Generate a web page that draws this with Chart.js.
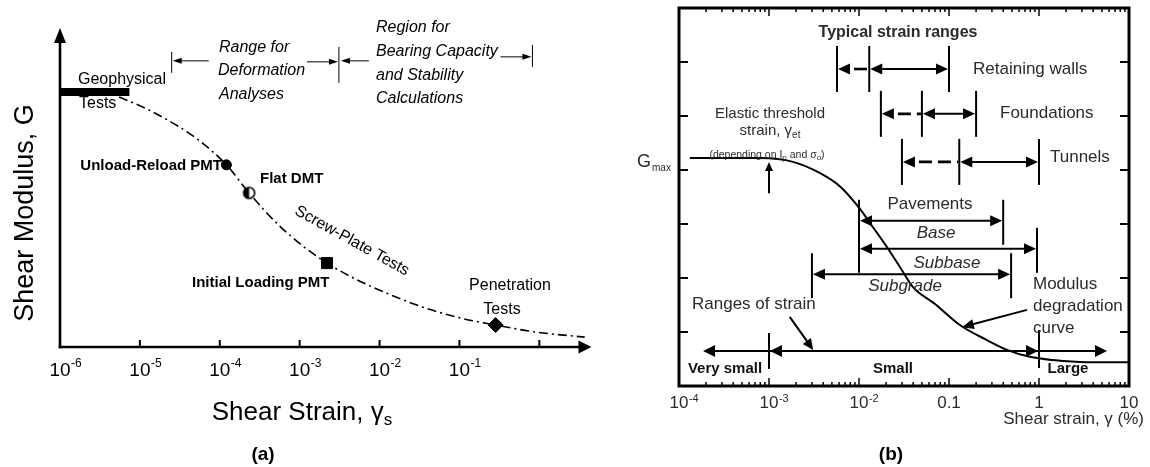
<!DOCTYPE html>
<html>
<head>
<meta charset="utf-8">
<script src="https://cdn.jsdelivr.net/npm/chart.js@4.4.0/dist/chart.umd.min.js"></script>
<style>
  body { margin: 0; background: #fff; }
  #wrap { position: relative; width: 1150px; height: 467px; }
  #wrap canvas { position: absolute; top: 0; }
</style>
</head>
<body>
<div id="wrap">
  <canvas id="chartA" width="600" height="467" style="left:0"></canvas>
  <canvas id="chartB" width="550" height="467" style="left:600px"></canvas>
</div>
<script>
// ---------- panel (a) ----------
const strainTicksA = [1e-6, 1e-5, 1e-4, 1e-3, 1e-2, 1e-1, 1];
const tickExpA = ['-6', '-5', '-4', '-3', '-2', '-1', ''];
const curveStrainA = [5.5e-6, 1.3e-5, 3.1e-5, 5.4e-5, 1.21e-4, 2.33e-4, 5.8e-4, 2.2e-3, 0.02, 0.091, 0.284, 0.89, 3.7];
const curveGA = [78.4, 74.3, 69.0, 64.9, 57.1, 48.3, 37.6, 26.3, 14.7, 9.4, 6.9, 4.7, 3.1];
const testStrain = [1.21e-4, 2.33e-4, 2.2e-3, 0.284];
const testG = [57.1, 48.3, 26.3, 6.9];
const geoStrain = [1e-6, 7.4e-6];
const geoG = [79.9, 79.9];
const deformRange = [2.5e-5, 3.1e-3];
const bearingRange = [3.1e-3, 0.82];

// ---------- panel (b) ----------
const strainTicksB = [1e-4, 1e-3, 1e-2, 0.1, 1, 10];
const tickBaseB = ['10', '10', '10', '0.1', '1', '10'];
const tickExpB = ['-4', '-3', '-2', '', '', ''];
const gTicksB = [1, 2, 3, 4, 5, 6];
const curveStrainB = [1.32e-4, 7.9e-4, 1.85e-3, 3.7e-3, 6.2e-3, 9.8e-3, 0.0143, 0.0205, 0.0286, 0.0398, 0.0698, 0.132, 0.264, 0.44, 0.79, 1.43, 3.4, 10];
const curveGB = [4.22, 4.22, 4.15, 3.94, 3.69, 3.32, 2.94, 2.57, 2.2, 1.83, 1.52, 1.13, 0.85, 0.67, 0.54, 0.48, 0.44, 0.44];
const gmaxB = 4.22;
const structures = ['Retaining walls', 'Foundations', 'Tunnels'];
const structFrom = [0.0057, 0.0175, 0.03];
const structMid = [0.013, 0.05, 0.13];
const structTo = [0.1, 0.2, 1];
const layers = ['Base', 'Subbase', 'Subgrade'];
const layerFrom = [0.01, 0.01, 0.003];
const layerTo = [0.4, 0.95, 0.49];
const classNames = ['Very small', 'Small', 'Large'];
const classLimits = [1.85e-4, 1e-3, 1, 5.7];
const elasticThreshold = 1e-3;

const F = '"Liberation Sans", Arial, Helvetica, sans-serif';

function seg(ctx, x1, y1, x2, y2) {
  ctx.beginPath(); ctx.moveTo(x1, y1); ctx.lineTo(x2, y2); ctx.stroke();
}
function head(ctx, tx, ty, ang, len, hw) {
  const c = Math.cos(ang), s = Math.sin(ang);
  const bx = tx - len * c, by = ty - len * s;
  ctx.beginPath();
  ctx.moveTo(tx, ty);
  ctx.lineTo(bx - hw * s, by + hw * c);
  ctx.lineTo(bx + hw * s, by - hw * c);
  ctx.closePath(); ctx.fill();
}
function arrow(ctx, fx, fy, tx, ty, len, hw) {
  const a = Math.atan2(ty - fy, tx - fx);
  seg(ctx, fx, fy, tx - Math.cos(a) * len * 0.6, ty - Math.sin(a) * len * 0.6);
  head(ctx, tx, ty, a, len, hw);
}
function label(ctx, str, x, y, font, align = 'left', base = 'middle') {
  ctx.font = font; ctx.textAlign = align; ctx.textBaseline = base; ctx.fillText(str, x, y);
}
function runs(ctx, parts, x, y, align) {
  let w = 0;
  parts.forEach(p => { ctx.font = p[1]; w += ctx.measureText(p[0]).width; });
  let cx = align === 'center' ? x - w / 2 : align === 'right' ? x - w : x;
  ctx.textAlign = 'left';
  parts.forEach(p => {
    ctx.font = p[1]; ctx.fillText(p[0], cx, y + (p[2] || 0));
    cx += ctx.measureText(p[0]).width;
  });
}
function power(ctx, cx, by, base, exp, size, expSize, rise) {
  ctx.textBaseline = 'alphabetic'; ctx.textAlign = 'left';
  ctx.font = `${size}px ${F}`;
  const w = ctx.measureText(base).width;
  ctx.fillText(base, cx - w / 2, by);
  if (exp) { ctx.font = `${expSize}px ${F}`; ctx.fillText(exp, cx + w / 2 + 0.5, by - rise); }
}
function halfDot() {
  const c = document.createElement('canvas'); c.width = 15; c.height = 15;
  const g = c.getContext('2d');
  g.fillStyle = '#fff'; g.beginPath(); g.arc(7.5, 7.5, 5.5, 0, 2 * Math.PI); g.fill();
  g.fillStyle = '#000'; g.beginPath(); g.arc(7.5, 7.5, 5.5, Math.PI / 2, 3 * Math.PI / 2); g.closePath(); g.fill();
  g.lineWidth = 1.6; g.strokeStyle = '#000'; g.beginPath(); g.arc(7.5, 7.5, 5.5, 0, 2 * Math.PI); g.stroke();
  return c;
}

const panelA = {
  id: 'panelA',
  afterDatasetsDraw(chart) {
    const { ctx, chartArea: ca, scales: { x, y } } = chart;
    const X = v => x.getPixelForValue(v), Y = v => y.getPixelForValue(v);
    ctx.save();
    ctx.strokeStyle = '#000'; ctx.fillStyle = '#000';
    // axes
    ctx.lineWidth = 2.6;
    seg(ctx, ca.left, ca.bottom + 1.3, ca.left, ca.top + 12);
    seg(ctx, ca.left - 1.3, ca.bottom, ca.right - 10, ca.bottom);
    head(ctx, ca.left, ca.top, -Math.PI / 2, 15, 6);
    head(ctx, ca.right, ca.bottom, 0, 13, 6.5);
    ctx.lineWidth = 2;
    strainTicksA.forEach((v, i) => {
      const px = X(v);
      if (i > 0) seg(ctx, px, ca.bottom, px, ca.bottom - 7);
      if (tickExpA[i]) power(ctx, px, 376, '10', tickExpA[i], 19, 12, 9);
    });

    // ranges at top
    ctx.lineWidth = 1;
    const ry = Y(89.7);
    const d0 = X(deformRange[0]), d1 = X(deformRange[1]), b1 = X(bearingRange[1]);
    seg(ctx, d0, ry - 9, d0, ry + 12);
    seg(ctx, d0 + 4, ry, d0 + 37, ry); head(ctx, d0 + 1, ry, Math.PI, 9, 3);
    seg(ctx, d1 - 32, ry + 1, d1 - 4, ry + 1); head(ctx, d1 - 1, ry + 1, 0, 9, 3);
    seg(ctx, d1, ry - 14, d1, ry + 22);
    seg(ctx, d1 + 5, ry, d1 + 30, ry); head(ctx, d1 + 2, ry, Math.PI, 9, 3);
    seg(ctx, b1 - 32, ry - 4, b1 - 4, ry - 4); head(ctx, b1 - 1, ry - 4, 0, 9, 3);
    seg(ctx, b1, ry - 16, b1, ry + 6);

    const it = `italic 16px ${F}`;
    label(ctx, 'Range for', 219, 52, it, 'left', 'alphabetic');
    label(ctx, 'Deformation', 218, 75, it, 'left', 'alphabetic');
    label(ctx, 'Analyses', 219, 99, it, 'left', 'alphabetic');
    label(ctx, 'Region for', 376, 32, it, 'left', 'alphabetic');
    label(ctx, 'Bearing Capacity', 376, 56, it, 'left', 'alphabetic');
    label(ctx, 'and Stability', 376, 80, it, 'left', 'alphabetic');
    label(ctx, 'Calculations', 376, 103, it, 'left', 'alphabetic');

    // test labels
    const rg = `16px ${F}`, bd = `bold 15px ${F}`;
    label(ctx, 'Geophysical', 78, 80, rg);
    label(ctx, 'Tests', 79, 104, rg);
    label(ctx, 'Unload-Reload PMT', 222, 166, bd, 'right');
    label(ctx, 'Flat DMT', 260, 179, `bold 15px ${F}`);
    label(ctx, 'Initial Loading PMT', 192, 283, bd);
    label(ctx, 'Penetration', 510, 286, rg, 'center');
    label(ctx, 'Tests', 502, 310, rg, 'center');
    ctx.save();
    ctx.translate(352, 241); ctx.rotate(29 * Math.PI / 180);
    label(ctx, 'Screw-Plate Tests', 0, 0, rg, 'center');
    ctx.restore();

    // titles
    ctx.save();
    ctx.translate(33, 213); ctx.rotate(-Math.PI / 2);
    label(ctx, 'Shear Modulus, G', 0, 0, `27px ${F}`, 'center', 'alphabetic');
    ctx.restore();
    ctx.textBaseline = 'alphabetic';
    runs(ctx, [['Shear Strain, \u03b3', `26px ${F}`, 0], ['s', `17px ${F}`, 5]], 302, 420, 'center');
    label(ctx, '(a)', 263, 455, `bold 19px ${F}`, 'center');
    ctx.restore();
  }
};

const panelB = {
  id: 'panelB',
  afterDatasetsDraw(chart) {
    const { ctx, chartArea: ca, scales: { x, y } } = chart;
    const X = v => x.getPixelForValue(v), Y = v => y.getPixelForValue(v);
    const ink = '#2b2b2b';
    ctx.save();
    ctx.strokeStyle = '#000'; ctx.fillStyle = '#000';
    ctx.lineWidth = 3;
    ctx.strokeRect(ca.left, ca.top, ca.right - ca.left, ca.bottom - ca.top);
    // log ticks top and bottom, inside
    ctx.lineWidth = 1.5;
    for (let d = -4; d < 1; d++) {
      for (let k = 1; k < 10; k++) {
        const px = X(k * Math.pow(10, d));
        const len = k === 1 ? 8 : 4;
        seg(ctx, px, ca.bottom, px, ca.bottom - len);
        seg(ctx, px, ca.top, px, ca.top + len);
      }
    }
    ctx.lineWidth = 2;
    gTicksB.forEach(v => {
      seg(ctx, ca.left, Y(v), ca.left + 9, Y(v));
      seg(ctx, ca.right, Y(v), ca.right - 9, Y(v));
    });
    ctx.fillStyle = ink;
    strainTicksB.forEach((v, i) => power(ctx, X(v), 408, tickBaseB[i], tickExpB[i], 17, 11, 6));

    // curve annotations
    ctx.fillStyle = '#000'; ctx.strokeStyle = '#000';
    ctx.lineWidth = 2;
    const ex = X(elasticThreshold);
    seg(ctx, ex, Y(3.57), ex, Y(4.15) + 5);
    head(ctx, ex, Y(4.15), -Math.PI / 2, 9, 4);
    arrow(ctx, X(0.736), Y(1.41), X(0.139), Y(1.09), 12, 5);
    arrow(ctx, X(0.0017), Y(1.28), X(0.0031), Y(0.667), 11, 5);

    // structures
    const structRows = [5.87, 5.04, 4.15];
    structures.forEach((name, i) => {
      const a = X(structFrom[i]), m = X(structMid[i]), b = X(structTo[i]), py = Y(structRows[i]);
      ctx.lineWidth = 2;
      [a, m, b].forEach(px => seg(ctx, px, py - 23, px, py + 23));
      head(ctx, a + 1, py, Math.PI, 12, 5.5);
      ctx.setLineDash([13, 6]); ctx.lineWidth = 2.6;
      seg(ctx, a + 17, py, m - 1, py);
      ctx.setLineDash([]); ctx.lineWidth = 2;
      seg(ctx, m + 6, py, b - 6, py);
      head(ctx, m + 1, py, Math.PI, 12, 5.5);
      head(ctx, b - 1, py, 0, 12, 5.5);
    });

    // pavement layers
    const layerRows = [3.06, 2.54, 2.07];
    layers.forEach((name, i) => {
      const a = X(layerFrom[i]), b = X(layerTo[i]), py = Y(layerRows[i]);
      seg(ctx, a, py - 21, a, py + 24);
      seg(ctx, b, py - 21, b, py + 24);
      seg(ctx, a + 6, py, b - 6, py);
      head(ctx, a + 1, py, Math.PI, 12, 5.5);
      head(ctx, b - 1, py, 0, 12, 5.5);
    });

    // strain classes
    const cy = Y(0.65);
    const c = classLimits.map(X);
    seg(ctx, c[0] + 6, cy, c[3] - 6, cy);
    head(ctx, c[0], cy, Math.PI, 12, 6);
    head(ctx, c[1] + 1, cy, Math.PI, 12, 6);
    head(ctx, c[2] - 1, cy, 0, 12, 6);
    head(ctx, c[3], cy, 0, 12, 6);
    seg(ctx, c[1], cy - 18, c[1], cy + 18);
    seg(ctx, c[2], cy - 21, c[2], cy + 17);

    // texts
    ctx.fillStyle = ink;
    const rg = `17px ${F}`, it = `italic 17px ${F}`, bd = `bold 15px ${F}`;
    label(ctx, 'Typical strain ranges', 298, 33, `bold 16px ${F}`, 'center');
    label(ctx, structures[0], 373, 69, rg);
    label(ctx, structures[1], 400, 113, rg);
    label(ctx, structures[2], 450, 157, rg);
    label(ctx, 'Pavements', 330, 204, rg, 'center');
    label(ctx, layers[0], 336, 233, it, 'center');
    label(ctx, layers[1], 347, 263, it, 'center');
    label(ctx, layers[2], 305, 286, it, 'center');
    label(ctx, 'Elastic threshold', 170, 114, `15px ${F}`, 'center');
    ctx.textBaseline = 'middle';
    runs(ctx, [['strain, \u03b3', `15px ${F}`, 0], ['et', `10px ${F}`, 4]], 170, 131, 'center');
    runs(ctx, [['(depending on I', `10.5px ${F}`, 0], ['p', `8px ${F}`, 3], [' and \u03c3', `10.5px ${F}`, 0], ['o', `8px ${F}`, 3], [')', `10.5px ${F}`, 0]], 167, 155, 'center');
    const gy = Y(gmaxB) + 4;
    label(ctx, 'G', 37, gy, `18px ${F}`);
    label(ctx, 'max', 52, gy + 6, `10px ${F}`);
    label(ctx, 'Ranges of strain', 92, 304, rg);
    label(ctx, 'Modulus', 433, 284, rg);
    label(ctx, 'degradation', 433, 306, rg);
    label(ctx, 'curve', 433, 328, rg);
    ctx.fillStyle = '#111';
    label(ctx, classNames[0], 125, 369, bd, 'center');
    label(ctx, classNames[1], 293, 369, bd, 'center');
    label(ctx, classNames[2], 468, 369, bd, 'center');

    ctx.fillStyle = ink;
    ctx.save();
    ctx.translate(620, 183); ctx.rotate(-Math.PI / 2);
    label(ctx, 'Shear modulus, G', 0, 0, rg, 'center', 'alphabetic');
    ctx.restore();
    label(ctx, 'Shear strain, \u03b3 (%)', 544, 424, rg, 'right', 'alphabetic');
    ctx.fillStyle = '#000';
    label(ctx, '(b)', 291, 455, `bold 19px ${F}`, 'center');
    ctx.restore();
  }
};

const pts = (xs, ys) => xs.map((v, i) => ({ x: v, y: ys[i] }));
const common = {
  responsive: false,
  animation: false,
  devicePixelRatio: 1,
  plugins: { legend: { display: false }, tooltip: { enabled: false } }
};

new Chart(document.getElementById('chartA'), {
  type: 'line',
  data: {
    datasets: [
      {
        data: pts(testStrain, testG),
        showLine: false,
        pointStyle: ['circle', halfDot(), 'rect', 'rectRot'],
        pointRadius: [5, 7, 7.8, 7.5],
        backgroundColor: '#000',
        borderColor: '#000',
        borderWidth: 1
      },
      {
        data: pts(geoStrain, geoG),
        borderColor: '#000',
        borderWidth: 8,
        borderCapStyle: 'butt',
        pointRadius: 0
      },
      {
        data: pts(curveStrainA, curveGA),
        borderColor: '#000',
        borderWidth: 1.6,
        borderDash: [9, 4, 2, 4],
        pointRadius: 0,
        cubicInterpolationMode: 'monotone'
      }
    ]
  },
  options: {
    ...common,
    layout: { padding: { left: 60, right: 3, top: 28, bottom: 120 } },
    scales: {
      x: { type: 'logarithmic', min: 1e-6, max: 4.5, display: false },
      y: { type: 'linear', min: 0, max: 100, display: false }
    }
  },
  plugins: [panelA]
});

new Chart(document.getElementById('chartB'), {
  type: 'line',
  data: {
    datasets: [{
      data: pts(curveStrainB, curveGB),
      borderColor: '#000',
      borderWidth: 2,
      pointRadius: 0,
      cubicInterpolationMode: 'monotone'
    }]
  },
  options: {
    ...common,
    layout: { padding: { left: 79, right: 21, top: 8, bottom: 81 } },
    scales: {
      x: { type: 'logarithmic', min: 1e-4, max: 10, display: false },
      y: { type: 'linear', min: 0, max: 7, display: false }
    }
  },
  plugins: [panelB]
});
</script>
</body>
</html>
